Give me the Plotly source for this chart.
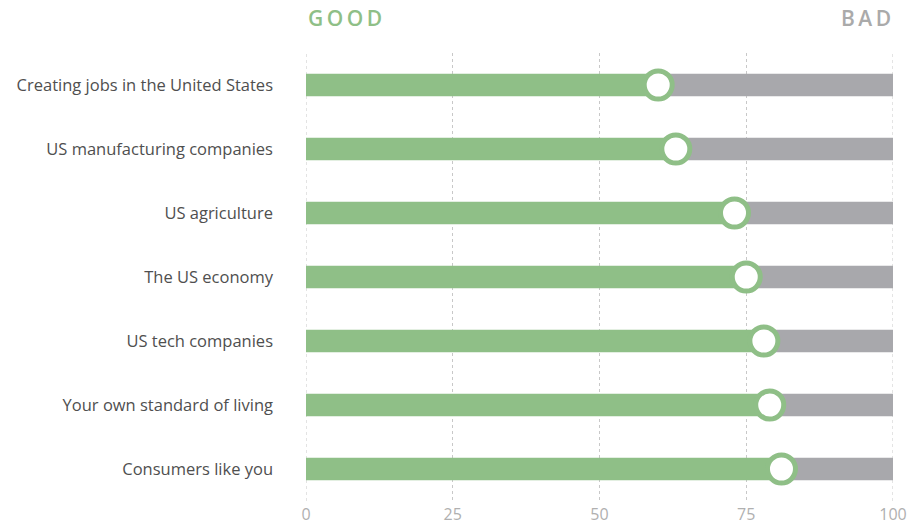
import plotly.graph_objects as go

categories = [
    "Creating jobs in the United States",
    "US manufacturing companies",
    "US agriculture",
    "The US economy",
    "US tech companies",
    "Your own standard of living",
    "Consumers like you",
]
good_values = [60, 63, 73, 75, 78, 79, 81]
total = 100
tick_vals = [0, 25, 50, 75, 100]
tick_text = ["0", "25", "50", "75", "100"]

GREEN = "#8fbf87"
GREY = "#a8a8ac"
GRID = "#c8c8c8"

bad_values = [total - v for v in good_values]

fig = go.Figure()
fig.add_trace(go.Bar(
    y=categories, x=good_values, base=0, orientation="h",
    marker=dict(color=GREEN, line=dict(width=0)), width=0.35,
    hoverinfo="skip", showlegend=False,
))
fig.add_trace(go.Bar(
    y=categories, x=bad_values, base=good_values, orientation="h",
    marker=dict(color=GREY, line=dict(width=0)), width=0.35,
    hoverinfo="skip", showlegend=False,
))
fig.add_trace(go.Scatter(
    y=categories, x=good_values, mode="markers",
    marker=dict(size=28, color="white", line=dict(color=GREEN, width=5)),
    hoverinfo="skip", showlegend=False, cliponaxis=False,
))

# edge gridlines (0 and 100), which plotly hides at the plot boundary
for v in (tick_vals[0], tick_vals[-1]):
    fig.add_shape(type="line", xref="x", yref="paper", x0=v, x1=v, y0=0, y1=1,
                  line=dict(color=GRID, width=1, dash="dot"), layer="below")

fig.update_layout(
    width=921, height=524,
    margin=dict(l=306, r=28, t=53, b=23, autoexpand=False),
    paper_bgcolor="white", plot_bgcolor="white",
    barmode="overlay",
    font=dict(family="Open Sans, sans-serif"),
    xaxis=dict(
        range=[0, 100], tickvals=tick_vals, ticktext=tick_text,
        showgrid=True, gridcolor=GRID, griddash="dot", gridwidth=1,
        zeroline=False, showline=False, ticks="",
        tickfont=dict(size=16, color="#b0b0b0"),
        ticklabelstandoff=2,
        fixedrange=True,
    ),
    yaxis=dict(
        categoryorder="array", categoryarray=categories,
        range=[6.5, -0.5], autorange=False,
        showgrid=False, zeroline=False, showline=False, ticks="",
        ticklabelstandoff=32,
        tickfont=dict(size=16.5, color="#4f4f4f"),
        fixedrange=True,
    ),
    annotations=[
        dict(text="G\u2009O\u2009O\u2009D", xref="paper", yref="paper", x=0, y=1,
             xanchor="left", yanchor="middle", yshift=35, showarrow=False,
             font=dict(size=21, color=GREEN, family="Open Sans, sans-serif", weight=600)),
        dict(text="B\u2009A\u2009D", xref="paper", yref="paper", x=1, y=1,
             xanchor="right", yanchor="middle", yshift=35, showarrow=False,
             font=dict(size=21, color="#aaaaaa", family="Open Sans, sans-serif", weight=600)),
    ],
)

fig.write_html("out.html")
